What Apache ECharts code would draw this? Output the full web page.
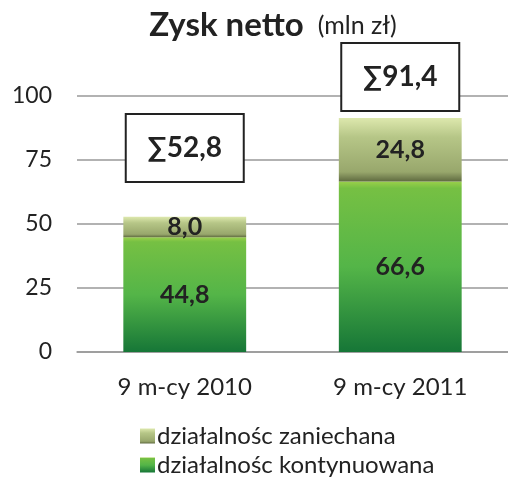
<!DOCTYPE html>
<html><head><meta charset="utf-8">
<script src="https://cdn.jsdelivr.net/npm/echarts@6/dist/echarts.min.js"></script>
<style>html,body{margin:0;padding:0;background:#fff}#c{width:508px;height:477px}</style>
</head><body><div id="c"></div>
<script>
const categories = ['9 m-cy 2010', '9 m-cy 2011'];
const kontynuowana = [44.8, 66.6];
const zaniechana = [8.0, 24.8];
const sumBoxAnchor = [79.7, 107.4];
const yTicks = [0, 25, 50, 75, 100];

const FONT = 'Lato';
const fmt = v => v.toFixed(1).replace('.', ',');
const sums = kontynuowana.map((v, i) => v + zaniechana[i]);

const chart = echarts.init(document.getElementById('c'), null, {renderer: 'canvas'});
chart.setOption({
  animation: false,
  textStyle: {fontFamily: FONT},
  title: {
    text: '{big|Zysk netto}{sp| }{small|(mln zł)}',
    left: 268, textAlign: 'center', top: 4,
    textStyle: {fontWeight: 'normal', fontSize: 25, rich: {
      big: {fontFamily: FONT, fontWeight: 'bold', fontSize: 33, color: '#222'},
      sp: {fontFamily: FONT, fontWeight: 'normal', fontSize: 25, width: 14},
      small: {fontFamily: FONT, fontWeight: 'normal', fontSize: 25, color: '#222'}
    }}
  },
  grid: {left: 77, right: -9, top: 96, bottom: 125},
  legend: {
    orient: 'vertical', left: 140, top: 424, height: 80, padding: 0, itemGap: 5,
    itemWidth: 15, itemHeight: 15, icon: 'rect',
    data: ['działalnośc zaniechana', 'działalnośc kontynuowana'],
    textStyle: {fontFamily: FONT, fontSize: 24, lineHeight: 24, color: '#222', padding: [0, 0, 0, -3]}
  },
  xAxis: {
    type: 'category', data: categories,
    axisLine: {show: true, lineStyle: {color: '#999', width: 1.5}},
    axisTick: {show: false},
    axisLabel: {fontFamily: FONT, fontSize: 24, color: '#222', margin: 23}
  },
  yAxis: {
    type: 'value', min: yTicks[0], max: yTicks[yTicks.length - 1], interval: 25,
    axisLine: {show: false}, axisTick: {show: false},
    splitLine: {lineStyle: {color: '#999', width: 1.5}},
    axisLabel: {fontFamily: FONT, fontSize: 23, color: '#222', margin: 25}
  },
  series: [
    {
      name: 'działalnośc kontynuowana', type: 'bar', stack: 's', barWidth: '57%',
      data: kontynuowana,
      itemStyle: {
        color: new echarts.graphic.LinearGradient(0, 0, 0, 1, [
          {offset: 0, color: '#9ad04a'},
          {offset: 0.04, color: '#76c043'},
          {offset: 0.5, color: '#54b548'},
          {offset: 1, color: '#167637'}
        ])
      },
      label: {show: true, position: 'inside', formatter: p => fmt(p.value),
        fontFamily: FONT, fontWeight: 'bold', fontSize: 25, color: '#222'}
    },
    {
      name: 'działalnośc zaniechana', type: 'bar', stack: 's', barWidth: '57%',
      data: zaniechana,
      itemStyle: {
        color: new echarts.graphic.LinearGradient(0, 0, 0, 1, [
          {offset: 0, color: '#dde8ad'},
          {offset: 0.3, color: '#b6c687'},
          {offset: 0.85, color: '#98a76c'},
          {offset: 1, color: '#5f6a40'}
        ])
      },
      label: {show: true, position: 'inside', formatter: p => fmt(p.value),
        fontFamily: FONT, fontWeight: 'bold', fontSize: 25, color: '#222'}
    },
    {
      name: 'suma', type: 'scatter', symbolSize: 1, silent: true, clip: false,
      itemStyle: {color: 'rgba(0,0,0,0)', opacity: 1},
      data: sumBoxAnchor.map((v, i) => [categories[i], v]),
      label: {
        show: true, position: 'inside', opacity: 1,
        formatter: p => '∑' + fmt(sums[p.dataIndex]),
        fontFamily: FONT, fontWeight: 'bold', fontSize: 28, color: '#222',
        textBorderWidth: 0,
        backgroundColor: '#fff', borderColor: '#222', borderWidth: 2,
        width: 116, height: 66, align: 'center', verticalAlign: 'middle',
        lineHeight: 66
      },
      z: 5
    }
  ]
});
</script></body></html>
